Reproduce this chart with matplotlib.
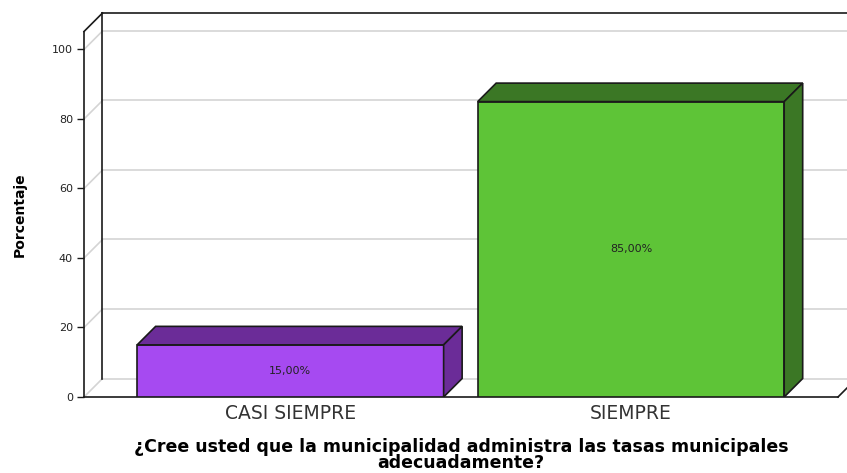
import matplotlib.pyplot as plt
import numpy as np

plt.rcParams['font.family'] = ['DejaVu Sans']

categories = ["CASI SIEMPRE", "SIEMPRE"]
values = [15.0, 85.0]
value_labels = ["15,00%", "85,00%"]
yticks = [0, 20, 40, 60, 80, 100]
xlabel = "¿Cree usted que la municipalidad administra las tasas municipales\nadecuadamente?"
ylabel = "Porcentaje"

front_colors = ["#a64af1", "#5ec437"]
dark_colors = ["#6b2c98", "#3b7725"]

W, H = 847, 473
fig = plt.figure(figsize=(W / 100, H / 100), dpi=100)
# axes box = front floor line (x 84..838) and y 397 (0) up to back top (13)
ax = fig.add_axes([84 / W, (H - 397) / H, (838 - 84) / W, (397 - 13) / H])
x0, x1 = -0.606, 1.608
y0, y1 = 0, 110.5
ax.set_xlim(x0, x1)
ax.set_ylim(y0, y1)
for s in ax.spines.values():
    s.set_visible(False)

# depth offsets in data units (about 18-19 px)
dx = 18.5 * (x1 - x0) / (838 - 84)
dy = 18.5 * (y1 - y0) / (397 - 13)
top_front = y1 - dy

grid_c = "#d4d4d4"
edge_c = "#1a1a1a"

# gridlines on back wall + left wall diagonals
for t in yticks:
    ax.plot([x0 + dx, x1 + dx + 0.2], [t + dy, t + dy], color=grid_c, lw=1.2,
            zorder=1, clip_on=False)
    ax.plot([x0, x0 + dx], [t, t + dy], color=grid_c, lw=1.2, zorder=1,
            clip_on=False)

# wall frame
ax.plot([x0, x0], [0, top_front], color=edge_c, lw=1.2, zorder=2, clip_on=False)
ax.plot([x0 + dx, x0 + dx], [dy, y1], color=edge_c, lw=1.2, zorder=2, clip_on=False)
ax.plot([x0, x0 + dx], [top_front, y1], color=edge_c, lw=1.2, zorder=2, clip_on=False)
ax.plot([x0 + dx, x1 + dx + 0.2], [y1, y1], color=edge_c, lw=1.2, zorder=2,
        clip_on=False)
ax.plot([x0, x1], [0, 0], color=edge_c, lw=1.2, zorder=2, clip_on=False)
ax.plot([x1, x1 + dx], [0, dy], color=edge_c, lw=1.2, zorder=2, clip_on=False)

# 3D bars
bw = 0.90
for i, (v, fc, dc) in enumerate(zip(values, front_colors, dark_colors)):
    l, r = i - bw / 2, i + bw / 2
    ax.fill([l, r, r, l], [0, 0, v, v], facecolor=fc, edgecolor=edge_c,
            lw=1.2, zorder=4)
    ax.fill([l, r, r + dx, l + dx], [v, v, v + dy, v + dy], facecolor=dc,
            edgecolor=edge_c, lw=1.2, zorder=4)
    ax.fill([r, r + dx, r + dx, r], [0, dy, v + dy, v], facecolor=dc,
            edgecolor=edge_c, lw=1.2, zorder=4)
    ax.text(i, v / 2, value_labels[i], ha="center", va="center", fontsize=8,
            color="#222222", zorder=5)

ax.set_yticks(yticks)
ax.set_yticklabels([str(t) for t in yticks], fontsize=8, color="#222222")
ax.tick_params(axis="y", length=5, width=1, color=edge_c, pad=3)
ax.set_xticks(range(len(categories)))
ax.set_xticklabels(categories, fontsize=13.5, color="#333333")
ax.tick_params(axis="x", length=0, pad=5)

ax.set_xlabel(xlabel, fontsize=12.5, fontweight="bold", labelpad=11,
              linespacing=0.85)
fig.text(20 / W, 1 - 215 / H, ylabel, rotation=90, ha="center", va="center",
         fontsize=10, fontweight="bold")

fig.savefig("out.png", dpi=100)
